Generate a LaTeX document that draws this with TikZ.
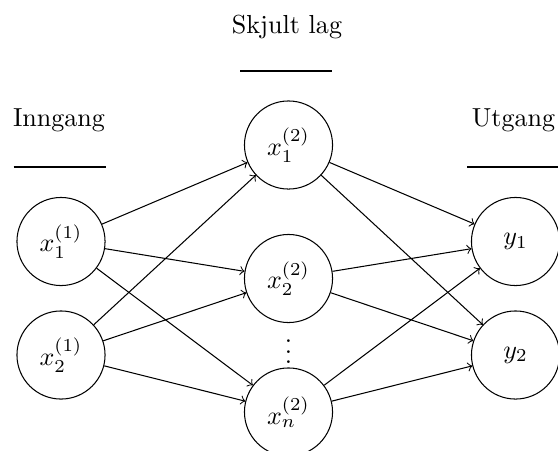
\documentclass[tikz,border=0pt]{standalone}
\begin{document}
\begin{tikzpicture}[x=0.3837pt, y=-0.3837pt,
  neuron/.style={circle, draw, line width=0.4pt, minimum size=33.8pt, inner sep=0pt},
  layerlabel/.style={anchor=base, inner sep=0pt},
  conn/.style={->, line width=0.4pt}]
  \useasboundingbox (0,0) rectangle (558,450);

  % layer titles with rules below
  \node[layerlabel] (tin)  at (59,126.5)  {Inngang};
  \node[layerlabel] (thid) at (287,33.5)  {Skjult lag};
  \node[layerlabel] (tout) at (513.5,126.5) {Utgang};
  \coordinate (rin1) at (13.5,167);  \coordinate (rin2) at (105.5,167);
  \coordinate (rh1)  at (240,71);    \coordinate (rh2)  at (332,71);
  \coordinate (rout1) at (467,167);  \coordinate (rout2) at (559,167);
  \draw (rin1) -- (rin2);
  \draw (rh1) -- (rh2);
  \draw (rout1) -- (rout2);

  % input layer
  \node[neuron] (in1) at (61,241.5) {$x_1^{(1)}$};
  \node[neuron] (in2) at (61,355)   {$x_2^{(1)}$};

  % hidden layer
  \node[neuron] (h1) at (288.5,145)   {$x_1^{(2)}$};
  \node[neuron] (h2) at (288.5,278.5) {$x_2^{(2)}$};
  \node[neuron] (hn) at (288.5,412)   {$x_n^{(2)}$};
  \node[inner sep=0pt] (dots) at (288.5,344) {$\vdots$};

  % output layer
  \node[neuron] (o1) at (515.5,241.5) {$y_1$};
  \node[neuron] (o2) at (515.5,355)   {$y_2$};

  % connections
  \foreach \i in {in1,in2}
    \foreach \j in {h1,h2,hn}
      \draw[conn] (\i) -- (\j);
  \foreach \j in {h1,h2,hn}
    \foreach \k in {o1,o2}
      \draw[conn] (\j) -- (\k);
\end{tikzpicture}
\end{document}
